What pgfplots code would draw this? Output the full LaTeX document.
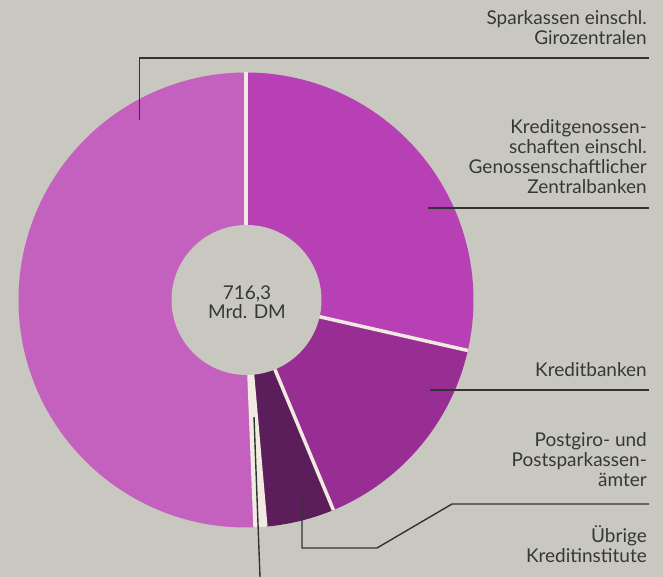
\documentclass[border=0pt]{standalone}
\usepackage{pgfplots}
\pgfplotsset{compat=1.18}
\usepackage{pgfplotstable}
\usepackage{fontspec}
\setmainfont{Lato}
\definecolor{bg}{RGB}{201,200,192}
\definecolor{cSpk}{RGB}{196,96,190}
\definecolor{cGen}{RGB}{183,64,181}
\definecolor{cKB}{RGB}{152,46,148}
\definecolor{cPost}{RGB}{92,30,90}
\definecolor{cUeb}{RGB}{240,234,224}
\definecolor{txt}{RGB}{55,55,55}
\definecolor{lead}{RGB}{50,50,50}

% Spareinlagen nach Bankengruppen, Mrd. DM (total 716,3)
\pgfplotstableread{
value col
204.6 cGen
108.6 cKB
35.0 cPost
5.4 cUeb
362.7 cSpk
}\shares

\newcommand{\lbl}[3]{\node[anchor=base east, inner sep=0pt, font=\fontsize{19}{20}\selectfont, text=txt] at (axis cs:#1,{577-#2}) {#3};}

\begin{document}
\begin{tikzpicture}
\begin{axis}[x=1pt,y=1pt,xmin=0,xmax=663,ymin=0,ymax=577,hide axis,clip=true,scale only axis]
\fill[bg] (axis cs:0,0) rectangle (axis cs:663,577);
% sectors
\def\cum{0}
\pgfplotsforeachungrouped \i in {0,...,4}{%
  \pgfplotstablegetelem{\i}{value}\of\shares \let\val\pgfplotsretval
  \pgfplotstablegetelem{\i}{col}\of\shares \let\col\pgfplotsretval
  \pgfmathsetmacro{\aS}{90-\cum/716.3*360}%
  \pgfmathsetmacro{\aE}{90-(\cum+\val)/716.3*360}%
  \pgfmathsetmacro{\cum}{\cum+\val}%
  \edef\temp{\noexpand\fill[\col] (axis cs:246,277) -- (axis cs:{246+227.5*cos(\aS)},{277+227.5*sin(\aS)}) arc[start angle=\aS, end angle=\aE, radius=227.5pt] -- cycle;}%
  \temp
}
% separators
\def\cum{0}
\pgfplotsforeachungrouped \i in {0,...,4}{%
  \pgfplotstablegetelem{\i}{value}\of\shares \let\val\pgfplotsretval
  \pgfmathsetmacro{\aS}{90-\cum/716.3*360}%
  \pgfmathsetmacro{\cum}{\cum+\val}%
  \edef\temp{\noexpand\draw[cUeb, line width=3.5pt] (axis cs:246,277) -- (axis cs:{246+227.5*cos(\aS)},{277+227.5*sin(\aS)});}%
  \temp
}
% hole
\fill[bg] (axis cs:246.5,277) circle[radius=75pt];
\node[anchor=base, inner sep=0pt, font=\fontsize{19}{20}\selectfont, text=txt] at (axis cs:247,{577-300}) {716,3};
\node[anchor=base, inner sep=0pt, font=\fontsize{19}{20}\selectfont, text=txt] at (axis cs:247,{577-319}) {Mrd. DM};
% leaders
\draw[lead, line width=1.4pt] (axis cs:139.5,{577-120}) -- (axis cs:139.5,{577-58}) -- (axis cs:649,{577-58});
\draw[lead, line width=1.4pt] (axis cs:428,{577-208}) -- (axis cs:649,{577-208});
\draw[lead, line width=1.4pt] (axis cs:430,{577-390}) -- (axis cs:649,{577-390});
\draw[lead, line width=1.4pt] (axis cs:302,{577-497}) -- (axis cs:302,{577-548}) -- (axis cs:377,{577-548}) -- (axis cs:452,{577-504}) -- (axis cs:649,{577-504});
\draw[lead, line width=1.4pt] (axis cs:254,{577-417}) -- (axis cs:260,{577-577});
% labels
\lbl{647}{25}{Sparkassen einschl.}
\lbl{647}{45}{Girozentralen}
\lbl{647}{134}{Kreditgenossen-}
\lbl{647}{154}{schaften einschl.}
\lbl{647}{174}{Genossenschaftlicher}
\lbl{647}{194}{Zentralbanken}
\lbl{647}{377}{Kreditbanken}
\lbl{647}{447}{Postgiro- und}
\lbl{647}{467}{Postsparkassen-}
\lbl{647}{487}{ämter}
\lbl{647}{543}{Übrige}
\lbl{647}{563}{Kreditinstitute}
\end{axis}
\end{tikzpicture}
\end{document}
